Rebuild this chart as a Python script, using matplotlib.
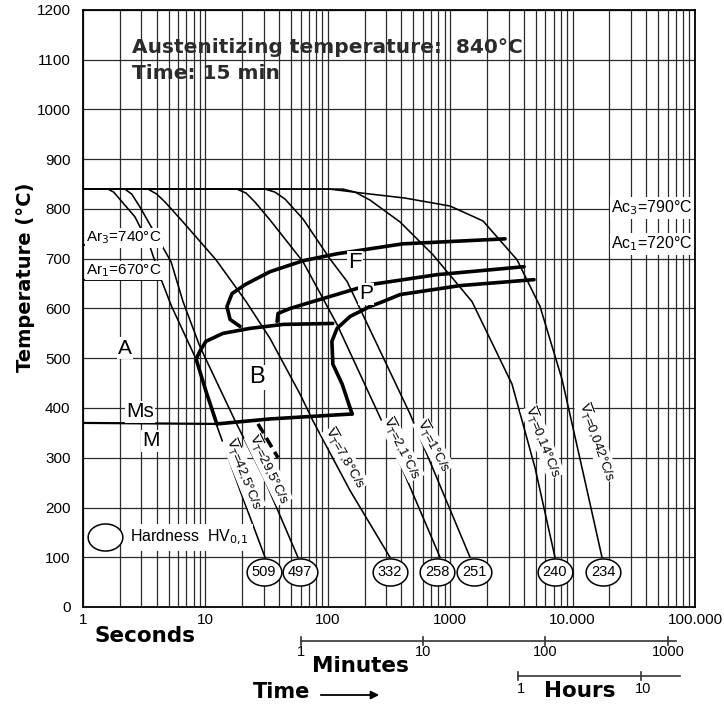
import numpy as np
import matplotlib
matplotlib.use("Agg")
import matplotlib.pyplot as plt
from matplotlib.path import Path
from matplotlib.transforms import blended_transform_factory

plt.rcParams["font.family"] = ["Liberation Sans", "DejaVu Sans"]
NARROW = ["Liberation Sans Narrow", "Liberation Sans", "DejaVu Sans"]
HEAVY = ["DejaVu Sans"]

# cooling curves, time in s / temperature in C
c1_t = [1, 1.6, 1.78, 1.93, 2.66, 3.53, 4.26, 5.3, 8.4, 12.0, 19.2, 30.7]
c1_T = [840, 840, 834, 824, 784, 724, 664, 604, 498, 374, 234, 100]
c2_t = [1, 2.2, 2.5, 2.92, 5.24, 6.56, 9.0, 17.5, 30.7, 57]
c2_T = [840, 840, 830, 804, 694, 614, 524, 374, 254, 100]
c3_t = [1, 3.4, 4.0, 4.68, 6.56, 12.2, 21.5, 33.7, 59.3, 75.7, 152, 322]
c3_T = [840, 840, 830, 814, 774, 698, 614, 540, 428, 374, 234, 100]
c4_t = [1, 18.1, 21.5, 25.4, 33.7, 62.7, 119, 283, 826]
c4_T = [840, 840, 832, 814, 778, 694, 568, 368, 100]
c5_t = [1, 30.7, 37, 44.7, 62.7, 104, 144, 183, 470, 1452]
c5_T = [840, 840, 834, 820, 780, 700, 654, 600, 388, 100]
c6_t = [1, 133, 167, 221, 389, 723, 1507, 3199, 4930, 7180]
c6_T = [840, 840, 834, 818, 774, 708, 614, 448, 280, 100]
c7_t = [1, 104, 190, 427, 996, 1853, 3515, 5420, 8190, 11930, 17380]
c7_T = [840, 840, 832, 822, 806, 776, 698, 604, 458, 280, 100]
curves_t = [c1_t, c2_t, c3_t, c4_t, c5_t, c6_t, c7_t]
curves_T = [c1_T, c2_T, c3_T, c4_T, c5_T, c6_T, c7_T]

rate_labels = ["42,5", "29,5", "7,8", "2,1", "1", "0,14", "0,042"]
rate_pos_t = [18.8, 30.1, 128, 368, 671, 5210, 14400]
rate_pos_T = [264, 274, 294, 314, 320, 328, 328]
rate_rot = [-68, -64, -60, -63, -62, -68, -70]

hardness = [509, 497, 332, 258, 251, 240, 234]
hardness_t = [30.1, 59.3, 322, 780, 1565, 7180, 17700]

# transformation lines
ferrite_t = [19.2, 15.9, 15.0, 16.5, 21.1, 33.7, 62.7, 119, 411, 2805]
ferrite_T = [564, 578, 604, 630, 648, 674, 696, 710, 730, 740]
pearl_s_t = [38.5, 39.2, 49.1, 75.7, 221, 780, 4010]
pearl_s_T = [574, 590, 600, 614, 648, 668, 684]
pearl_f_t = [158, 131, 110, 108, 119, 152, 221, 283, 389, 1202, 4840]
pearl_f_T = [388, 448, 488, 534, 560, 584, 604, 614, 628, 646, 658]
bain_t = [12.4, 10.1, 8.4, 9.0, 10.1, 13.9, 23.1, 43.1, 110]
bain_T = [368, 434, 498, 514, 534, 550, 560, 568, 570]
ms_bold_t = [12.4, 33.7, 158]
ms_bold_T = [368, 378, 388]
ms_t = [1, 12.4]
ms_T = [370, 368]
mf_dash_t = [26.9, 39.2]
mf_dash_T = [368, 300]

minutes = [1, 10, 100, 1000]
hours = [1, 10]

W, H = 724, 704
fig = plt.figure(figsize=(W / 100, H / 100), dpi=100)
ax = fig.add_axes([83 / W, 1 - 607 / H, (695 - 83) / W, (607 - 10) / H])
ax.set_xscale("log")
ax.set_xlim(1, 1e5)
ax.set_ylim(0, 1200)

ax.set_yticks(np.arange(0, 1201, 100))
ax.set_yticklabels([str(v) for v in range(0, 1201, 100)], family=NARROW, fontsize=11)
ax.set_xticks([1, 10, 100, 1000, 1e4, 1e5])
ax.set_xticklabels(["1", "10", "100", "1000", "10.000", "100.000"], family=NARROW, fontsize=11)
ax.tick_params(axis="y", which="both", length=0, pad=9)
ax.tick_params(axis="x", which="both", length=0, pad=4)
ax.xaxis.set_minor_locator(matplotlib.ticker.LogLocator(base=10, subs=np.arange(2, 10)))
ax.xaxis.set_minor_formatter(matplotlib.ticker.NullFormatter())
ax.grid(True, which="both", color="#2a2a2a", lw=0.9)
ax.set_axisbelow(True)
for s in ax.spines.values():
    s.set_linewidth(1.3)

for t, T in zip(curves_t, curves_T):
    ax.plot(t, T, color="black", lw=1.15)

bold = dict(color="black", lw=2.6, solid_capstyle="round", solid_joinstyle="round")
ax.plot(ferrite_t, ferrite_T, **bold)
ax.plot(pearl_s_t, pearl_s_T, **bold)
ax.plot(pearl_f_t, pearl_f_T, **bold)
ax.plot(bain_t, bain_T, **bold)
ax.plot(ms_bold_t, ms_bold_T, **bold)
ax.plot(ms_t, ms_T, color="black", lw=1.6)
ax.plot(mf_dash_t, mf_dash_T, color="black", lw=2.6, ls=(0, (3, 1.5)))

for lab, t, T, r in zip(rate_labels, rate_pos_t, rate_pos_T, rate_rot):
    a = np.deg2rad(r + 90)
    ax.annotate(r"$\overline{\mathrm{V}}_{\mathrm{T}}$=" + lab + "°C/s", xy=(t, T),
                xytext=(5 * np.cos(a), 5 * np.sin(a)), textcoords="offset pixels",
                rotation=r, rotation_mode="anchor", ha="center", va="center",
                fontsize=9.5, family=NARROW, bbox=dict(fc="white", ec="none", pad=0))

# elliptic marker for hardness values
th = np.linspace(0, 2 * np.pi, 60)
ell = Path(np.column_stack([np.cos(th), 0.78 * np.sin(th)]))

for hv, t in zip(hardness, hardness_t):
    ax.plot(t, 70, marker=ell, ms=25, mfc="white", mec="black", mew=1.1, zorder=4)
    ax.text(t, 70, str(hv), ha="center", va="center", fontsize=10.5, family=NARROW, zorder=5)

# hardness legend
ax.plot(1.5, 140, marker=ell, ms=25, mfc="white", mec="black", mew=1.1, zorder=4)
ax.text(2.42, 140, "Hardness  HV$_{0{,}1}$", ha="left", va="center", fontsize=11.5,
        bbox=dict(fc="white", ec="none", pad=3))

# phase region labels
for txt, t, T, fs in [("A", 2.2, 520, 15), ("B", 26.4, 462, 17), ("F", 167, 692, 16),
                      ("P", 205, 630, 15), ("Ms", 2.92, 392, 15), ("M", 3.6, 334, 15)]:
    ax.text(t, T, txt, ha="center", va="center", fontsize=fs,
            bbox=dict(fc="white", ec="none", pad=1))

# critical temperatures
ax.text(1.06, 742, "Ar$_3$=740°C", ha="left", va="center", fontsize=11, family=NARROW,
        bbox=dict(fc="white", ec="none", pad=1))
ax.plot([1, 4.3], [728, 728], color="black", lw=1.3)
ax.text(1.06, 676, "Ar$_1$=670°C", ha="left", va="center", fontsize=11, family=NARROW,
        bbox=dict(fc="white", ec="none", pad=1))
ax.plot([1, 4.3], [658, 658], color="black", lw=1.3)
ax.text(9.6e4, 802, "Ac$_3$=790°C", ha="right", va="center", fontsize=11.5, family=NARROW,
        bbox=dict(fc="white", ec="none", pad=1))
ax.plot([2.1e4, 1e5], [782, 782], color="black", lw=1.3)
ax.text(9.6e4, 730, "Ac$_1$=720°C", ha="right", va="center", fontsize=11.5, family=NARROW,
        bbox=dict(fc="white", ec="none", pad=1))
ax.plot([2.1e4, 1e5], [710, 710], color="black", lw=1.3)

ax.text(2.5, 1124, "Austenitizing temperature:  840°C", fontsize=14.5, fontweight="bold",
        family=HEAVY, color="#2b2b2b", ha="left", va="center")
ax.text(2.5, 1072, "Time: 15 min", fontsize=14.5, fontweight="bold", family=HEAVY,
        color="#2b2b2b", ha="left", va="center")

ax.set_ylabel("Temperature (°C)", fontsize=14, fontweight="bold", family=HEAVY)
ax.yaxis.set_label_coords(-0.078, 0.553)

# time scales under the axis
tr = blended_transform_factory(ax.transData, fig.transFigure)
fy = lambda p: 1 - p / H
fig.text(95 / W, fy(636), "Seconds", fontsize=15.5, fontweight="bold", family=HEAVY, va="center")

ax.plot([60, 7.0e4], [fy(641)] * 2, color="#333", lw=1.2, transform=tr, clip_on=False)
for m in minutes:
    ax.plot([m * 60] * 2, [fy(637), fy(645)], color="#333", lw=1.2, transform=tr, clip_on=False)
    ax.text(m * 60, fy(652), str(m), transform=tr, ha="center", va="center",
            fontsize=10.5, family=NARROW)
fig.text(360 / W, fy(666), "Minutes", fontsize=15.5, fontweight="bold", family=HEAVY,
         ha="center", va="center")

ax.plot([3600, 7.5e4], [fy(676)] * 2, color="#333", lw=1.2, transform=tr, clip_on=False)
for h in hours:
    ax.plot([h * 3600] * 2, [fy(672), fy(680)], color="#333", lw=1.2, transform=tr, clip_on=False)
    ax.text(h * 3600 * 1.05, fy(689), str(h), transform=tr, ha="center", va="center",
            fontsize=10.5, family=NARROW)
fig.text(580 / W, fy(691), "Hours", fontsize=15.5, fontweight="bold", family=HEAVY,
         ha="center", va="center")

fig.text(282 / W, fy(692), "Time", fontsize=15, fontweight="bold", family=HEAVY,
         ha="center", va="center")
fig.add_artist(matplotlib.patches.FancyArrowPatch((318 / W, fy(695)), (382 / W, fy(695)),
                                                  transform=fig.transFigure, arrowstyle="-|>",
                                                  mutation_scale=12, lw=1.3, color="black"))

fig.savefig("out.png", dpi=100)
